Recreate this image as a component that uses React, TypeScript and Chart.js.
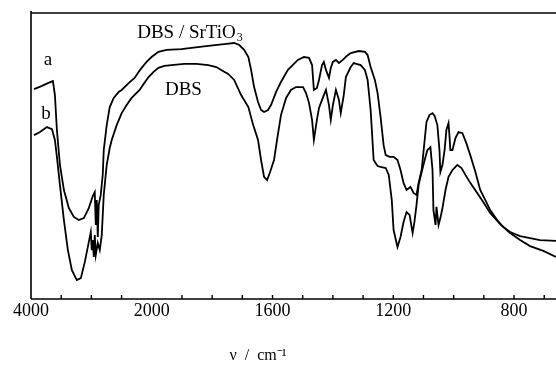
import React, { useEffect, useRef } from "react";
import { Chart, registerables } from "chart.js";

Chart.register(...registerables);

// Curve a: DBS/SrTiO3 (wavenumber, cm-1) and relative transmittance
const waveA = [3950, 3818, 3720, 3637, 3604, 3571, 3521, 3455, 3373, 3290, 3208, 3125, 3043, 2977, 2944, 2927, 2911, 2894, 2878, 2845, 2812, 2795, 2746, 2696, 2630, 2548, 2498, 2383, 2284, 2218, 2168, 2086, 2003,
  1978, 1951, 1902, 1813, 1753, 1727, 1710, 1694, 1680, 1671, 1661, 1648, 1638, 1628, 1615, 1605, 1588, 1572, 1549, 1516, 1496, 1479, 1469, 1463, 1453, 1446, 1436, 1430, 1423, 1413, 1407, 1400, 1390, 1380, 1367, 1354, 1341, 1314, 1294, 1285, 1275, 1261, 1252, 1242, 1232, 1225, 1212, 1199, 1186, 1176, 1166, 1156, 1143, 1133, 1123, 1116, 1106, 1096, 1090, 1080, 1070, 1063, 1054, 1047, 1044, 1037, 1030, 1024, 1017, 1014, 1011, 1004, 994, 984, 971, 958, 945, 928, 912, 895, 879, 856, 836, 813, 780, 747, 714, 661];
const transA = [73.4, 74.5, 75.5, 76.2, 71.3, 59.1, 46.9, 38.1, 31.8, 28.7, 27.6, 28.3, 31.8, 36.0, 37.4, 25.9, 34.6, 21.7, 32.9, 36.4, 43.4, 52.1, 60.8, 67.1, 70.3, 72.4, 73.1, 75.5, 77.3, 79.4, 80.8, 82.9, 84.6,
  86.4, 87.1, 87.4, 88.5, 89.2, 89.5, 88.8, 87.1, 84.6, 80.1, 74.1, 68.9, 66.1, 65.4, 66.1, 67.8, 72.4, 75.9, 80.1, 83.6, 84.6, 84.3, 81.8, 73.1, 73.8, 76.6, 81.8, 82.9, 80.1, 77.3, 80.8, 82.9, 83.6, 82.5, 83.6, 85.0, 86.0, 86.7, 86.4, 85.3, 81.1, 76.6, 72.0, 63.6, 53.8, 50.3, 49.7, 49.7, 48.6, 45.1, 40.6, 38.1, 39.2, 37.1, 36.4, 40.6, 45.1, 55.6, 61.9, 64.3, 65.0, 64.0, 60.8, 52.1, 44.4, 46.9, 52.1, 59.1, 61.5, 57.3, 52.1, 52.1, 56.3, 58.4, 58.0, 54.5, 50.3, 44.4, 38.1, 34.6, 31.1, 27.6, 25.2, 23.4, 22.0, 21.3, 20.6, 20.3];

// Curve b: DBS
const waveB = [3950, 3851, 3736, 3653, 3604, 3571, 3521, 3455, 3389, 3323, 3241, 3175, 3109, 3043, 3010, 2993, 2977, 2960, 2944, 2927, 2894, 2861, 2828, 2795, 2746, 2696, 2663, 2581, 2498, 2416, 2333, 2267, 2201, 2135, 2053,
  1994, 1978, 1958, 1935, 1892, 1852, 1813, 1786, 1770, 1747, 1727, 1704, 1680, 1664, 1648, 1638, 1628, 1618, 1608, 1595, 1585, 1572, 1555, 1539, 1522, 1499, 1489, 1479, 1469, 1463, 1453, 1446, 1440, 1430, 1423, 1413, 1407, 1400, 1390, 1380, 1374, 1364, 1357, 1341, 1331, 1308, 1294, 1285, 1275, 1265, 1252, 1242, 1225, 1215, 1205, 1199, 1186, 1176, 1166, 1156, 1146, 1136, 1130, 1123, 1116, 1106, 1096, 1087, 1077, 1070, 1067, 1060, 1057, 1050, 1044, 1037, 1027, 1017, 1004, 988, 974, 961, 945, 922, 902, 879, 846, 813, 780, 747, 703, 661];
const transB = [57.3, 58.4, 60.1, 59.4, 55.6, 49.7, 39.9, 27.6, 17.1, 10.1, 6.6, 7.3, 12.9, 19.9, 23.4, 17.1, 20.6, 14.7, 22.4, 15.4, 19.6, 17.1, 22.4, 36.4, 46.9, 52.8, 55.6, 60.8, 65.0, 67.8, 70.3, 71.7, 73.1, 75.2, 77.6,
  79.4, 80.8, 81.5, 81.8, 82.2, 82.2, 81.8, 81.1, 80.1, 78.7, 76.6, 71.3, 67.1, 60.8, 55.6, 48.6, 42.7, 41.6, 44.4, 48.6, 55.6, 64.3, 70.3, 73.1, 74.1, 74.1, 72.0, 68.5, 62.6, 55.6, 62.6, 66.8, 68.5, 71.3, 73.1, 67.8, 62.6, 67.8, 73.1, 69.6, 65.0, 71.3, 77.6, 81.1, 82.5, 81.8, 80.1, 76.6, 66.1, 48.6, 46.5, 46.2, 45.8, 43.4, 34.6, 24.1, 18.2, 21.7, 26.9, 30.4, 29.4, 23.1, 26.9, 32.9, 39.9, 44.4, 48.6, 52.1, 53.1, 45.1, 31.1, 25.9, 32.2, 25.9, 28.3, 31.8, 38.1, 42.7, 45.1, 46.9, 45.8, 43.4, 40.6, 37.1, 33.9, 30.1, 26.2, 23.1, 20.6, 18.5, 16.8, 14.7];

const labeledTicks = [4000, 2000, 1600, 1200, 800];
const minorTicks = [3500, 3000, 2500, 1900, 1800, 1700, 1600, 1500, 1400, 1300, 1200, 1100, 1000, 900, 800, 700];
const xMinWave = 4000;
const xMaxWave = 661;
const curveLabels = [
  { text: "a", wave: 3720, value: 83.6 },
  { text: "b", wave: 3752, value: 64.7 },
];
const seriesNames = [
  { text: "DBS / SrTiO", sub: "3", wave: 1875, value: 93.0 },
  { text: "DBS", sub: "", wave: 1895, value: 73.1 },
];
const axisTitle = "ν  /  cm⁻¹";

// Axis is broken: 500 cm-1 per unit above 2000, 100 cm-1 per unit below
const toPos = (nu: number) => (nu >= 2000 ? (4000 - nu) / 500 : 4 + (2000 - nu) / 100);
const fromPos = (p: number) => (p <= 4 ? 4000 - p * 500 : 2000 - (p - 4) * 100);

const FONT = "'Liberation Serif', 'Times New Roman', serif";

const framePlugin = {
  id: "frame",
  afterDatasetsDraw(chart: any) {
    const { ctx, chartArea } = chart;
    const xs = chart.scales.x;
    const ys = chart.scales.y;
    ctx.save();
    ctx.strokeStyle = "#000";
    ctx.lineWidth = 1.6;
    ctx.beginPath();
    ctx.moveTo(chartArea.left, chartArea.bottom);
    ctx.lineTo(chartArea.left, chartArea.top - 2);
    ctx.moveTo(chartArea.left, chartArea.top);
    ctx.lineTo(chartArea.right, chartArea.top);
    ctx.moveTo(chartArea.left, chartArea.bottom);
    ctx.lineTo(chartArea.right, chartArea.bottom);
    ctx.stroke();
    ctx.lineWidth = 1.4;
    ctx.beginPath();
    minorTicks.forEach((w) => {
      const x = xs.getPixelForValue(toPos(w));
      ctx.moveTo(x, chartArea.bottom);
      ctx.lineTo(x, chartArea.bottom - 4);
    });
    ctx.stroke();

    ctx.fillStyle = "#000";
    ctx.textAlign = "center";
    ctx.textBaseline = "middle";
    ctx.font = `19px ${FONT}`;
    curveLabels.forEach((l) => {
      ctx.fillText(l.text, xs.getPixelForValue(toPos(l.wave)), ys.getPixelForValue(l.value));
    });
    seriesNames.forEach((s) => {
      ctx.font = `19px ${FONT}`;
      const w1 = ctx.measureText(s.text).width;
      ctx.font = `12px ${FONT}`;
      const w2 = s.sub ? ctx.measureText(s.sub).width : 0;
      const cx = xs.getPixelForValue(toPos(s.wave));
      const cy = ys.getPixelForValue(s.value);
      const x0 = cx - (w1 + w2) / 2;
      ctx.textAlign = "left";
      ctx.font = `19px ${FONT}`;
      ctx.fillText(s.text, x0, cy);
      if (s.sub) {
        ctx.font = `12px ${FONT}`;
        ctx.fillText(s.sub, x0 + w1 + 1, cy + 5);
      }
    });
    ctx.textAlign = "center";
    ctx.textBaseline = "alphabetic";
    ctx.font = `16px ${FONT}`;
    ctx.fillText(axisTitle, 258, 360);
    ctx.restore();
  },
};

export default function App() {
  const ref = useRef<HTMLCanvasElement | null>(null);
  useEffect(() => {
    if (!ref.current) return;
    const chart = new Chart(ref.current, {
      type: "line",
      data: {
        datasets: [
          {
            label: "DBS/SrTiO3",
            data: waveA.map((w, i) => ({ x: toPos(w), y: transA[i] })),
            borderColor: "#000",
            borderWidth: 1.8,
            pointRadius: 0,
            tension: 0,
            fill: false,
          },
          {
            label: "DBS",
            data: waveB.map((w, i) => ({ x: toPos(w), y: transB[i] })),
            borderColor: "#000",
            borderWidth: 1.8,
            pointRadius: 0,
            tension: 0,
            fill: false,
          },
        ],
      },
      options: {
        responsive: false,
        animation: false,
        layout: { padding: { left: 31, top: 13, right: 0, bottom: 0 } },
        plugins: { legend: { display: false }, tooltip: { enabled: false } },
        scales: {
          x: {
            type: "linear",
            min: toPos(xMinWave),
            max: toPos(xMaxWave),
            grid: { display: false, drawTicks: false },
            border: { display: false },
            ticks: {
              stepSize: 1,
              autoSkip: false,
              maxRotation: 0,
              padding: 3,
              color: "#000",
              font: { family: FONT, size: 18, lineHeight: 1 },
              callback: (v: any) => {
                const w = Math.round(fromPos(Number(v)));
                return labeledTicks.includes(w) ? String(w) : "";
              },
            },
            afterFit: (axis: any) => {
              axis.height = 66;
              axis.paddingLeft = 0;
              axis.paddingRight = 0;
            },
          },
          y: {
            display: false,
            min: 0,
            max: 100,
          },
        },
      },
      plugins: [framePlugin],
    });
    return () => chart.destroy();
  }, []);
  return (
    <div style={{ position: "fixed", left: 0, top: 0, width: 556, height: 365, background: "#fff" }}>
      <canvas ref={ref} width={556} height={365} />
    </div>
  );
}
